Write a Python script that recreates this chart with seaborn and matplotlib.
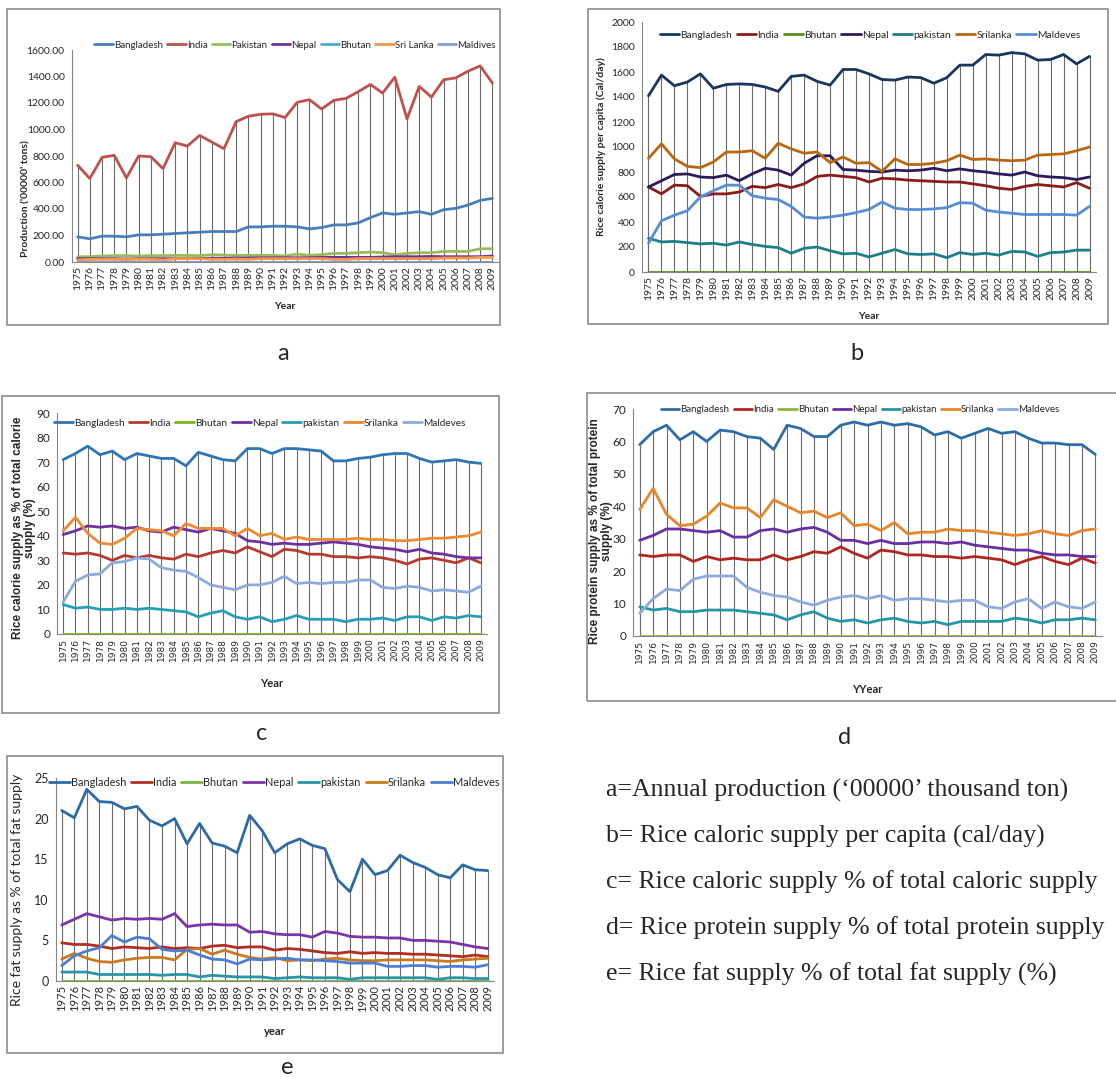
import pandas as pd
import seaborn as sns
import matplotlib.pyplot as plt
from matplotlib.lines import Line2D
from matplotlib.patches import Rectangle
from matplotlib.ticker import FormatStrFormatter

sns.set_style("white")
plt.rcParams['font.family'] = ['Lato', 'DejaVu Sans']

W, H = 1116, 1077
years = list(range(1975, 2010))

# a: production ('00000' tons)
prod_bangladesh = [190, 175, 195, 195, 190, 205, 205, 210, 215, 220, 225, 230, 230, 230, 265, 265, 270, 270, 265, 250,
                   260, 280, 280, 295, 335, 370, 360, 370, 380, 360, 395, 405, 430, 465, 480]
prod_india = [730, 630, 790, 805, 635, 800, 795, 705, 900, 875, 955, 905, 855, 1060, 1100, 1115, 1118, 1090, 1205, 1225,
              1155, 1220, 1235, 1285, 1340, 1275, 1395, 1080, 1325, 1245, 1375, 1390, 1440, 1480, 1350]
prod_pakistan = [40, 40, 45, 48, 48, 45, 48, 48, 50, 50, 48, 55, 52, 50, 50, 50, 50, 45, 60, 50,
                 55, 65, 65, 70, 75, 70, 55, 65, 70, 70, 80, 80, 80, 100, 100]
prod_nepal = [25, 25, 25, 25, 22, 25, 25, 25, 25, 27, 27, 28, 28, 30, 30, 32, 32, 32, 32, 33,
              35, 35, 35, 35, 35, 38, 40, 40, 40, 42, 40, 40, 40, 40, 45]
prod_bhutan = [2] * 35
prod_srilanka = [15, 20, 20, 20, 20, 22, 20, 15, 25, 25, 25, 20, 20, 22, 20, 25, 25, 25, 25, 25,
                 25, 20, 20, 25, 25, 25, 25, 25, 25, 25, 30, 30, 30, 35, 35]
prod_maldives = [0] * 35

# b: rice calorie supply per capita (cal/day)
cal_bangladesh = [1410, 1575, 1490, 1520, 1585, 1470, 1500, 1505, 1500, 1480, 1445, 1565, 1575, 1525, 1495, 1620, 1620,
                  1585, 1540, 1535, 1560, 1555, 1510, 1555, 1655, 1655, 1740, 1735, 1755, 1745, 1695, 1700, 1740, 1665, 1725]
cal_india = [680, 625, 695, 690, 605, 625, 625, 640, 685, 675, 700, 675, 705, 765, 775, 765, 755, 720, 750, 745,
             735, 730, 725, 720, 720, 705, 690, 670, 660, 685, 700, 690, 680, 715, 670]
cal_bhutan = [0] * 35
cal_nepal = [680, 730, 780, 785, 760, 755, 775, 730, 785, 830, 815, 775, 870, 930, 930, 820, 815, 805, 800, 815,
             810, 815, 830, 810, 825, 810, 800, 785, 775, 800, 770, 760, 755, 740, 760]
cal_pakistan = [270, 240, 245, 235, 225, 230, 215, 240, 220, 205, 195, 150, 190, 200, 170, 145, 150, 120, 150, 180,
                145, 140, 145, 115, 155, 140, 150, 135, 165, 160, 125, 155, 160, 175, 175]
cal_srilanka = [910, 1025, 905, 845, 835, 880, 960, 960, 970, 910, 1030, 985, 950, 960, 875, 920, 870, 875, 805, 905,
                860, 860, 870, 890, 935, 900, 905, 895, 890, 895, 935, 940, 945, 970, 1000]
cal_maldives = [230, 410, 455, 490, 600, 650, 695, 695, 610, 590, 580, 525, 440, 430, 440, 455, 475, 500, 560, 510,
                500, 500, 505, 515, 555, 550, 495, 480, 470, 460, 460, 460, 460, 455, 525]

# c: rice calorie supply as % of total calorie supply
pcal_bangladesh = [71, 73.5, 76.5, 73, 74.5, 71, 73.5, 72.5, 71.5, 71.5, 68.5, 74, 72.5, 71, 70.5, 75.5, 75.5, 73.5,
                   75.5, 75.5, 75, 74.5, 70.5, 70.5, 71.5, 72, 73, 73.5, 73.5, 71.5, 70, 70.5, 71, 70, 69.5]
pcal_india = [33, 32.5, 33, 32, 30, 32, 31, 32, 31, 30.5, 32.5, 31.5, 33, 34, 33, 35.5, 33.5, 31.5, 34.5, 34,
              32.5, 32.5, 31.5, 31.5, 31, 31.5, 31, 30, 28.5, 30.5, 31, 30, 29, 31, 29]
pcal_bhutan = [0] * 35
pcal_nepal = [40.5, 42, 44, 43.5, 44, 43, 43.5, 42, 41.5, 43.5, 42.5, 41.5, 43, 42, 41, 38, 37.5, 36.5, 37, 36.5,
              36.5, 37, 37.5, 37, 36.5, 35.5, 35, 34.5, 33.5, 34.5, 33, 32.5, 31.5, 31, 31]
pcal_pakistan = [12, 10.5, 11, 10, 10, 10.5, 10, 10.5, 10, 9.5, 9, 7, 8.5, 9.5, 7, 6, 7, 5, 6, 7.5,
                 6, 6, 6, 5, 6, 6, 6.5, 5.5, 7, 7, 5.5, 7, 6.5, 7.5, 7]
pcal_srilanka = [42, 47.5, 41, 37, 36.5, 39, 43, 42.5, 42, 40, 45, 43, 43, 43, 40, 43, 40, 41, 38.5, 39.5,
                 38.5, 38.5, 38.5, 38.5, 39, 38.5, 38.5, 38, 38, 38.5, 39, 39, 39.5, 40, 41.5]
pcal_maldives = [13, 21.5, 24, 24.5, 29, 29.5, 31, 30.5, 27, 26, 25.5, 23, 20, 19, 18, 20, 20, 21, 23.5, 20.5,
                 21, 20.5, 21, 21, 22, 22, 19, 18.5, 19.5, 19, 17.5, 18, 17.5, 17, 19.5]

# d: rice protein supply as % of total protein supply
prot_bangladesh = [59, 63, 65, 60.5, 63, 60, 63.5, 63, 61.5, 61, 57.5, 65, 64, 61.5, 61.5, 65, 66, 65, 66, 65,
                   65.5, 64.5, 62, 63, 61, 62.5, 64, 62.5, 63, 61, 59.5, 59.5, 59, 59, 56]
prot_india = [25, 24.5, 25, 25, 23, 24.5, 23.5, 24, 23.5, 23.5, 25, 23.5, 24.5, 26, 25.5, 27.5, 25.5, 24, 26.5, 26,
              25, 25, 24.5, 24.5, 24, 24.5, 24, 23.5, 22, 23.5, 24.5, 23, 22, 24, 22.5]
prot_bhutan = [0] * 35
prot_nepal = [29.5, 31, 33, 33, 32.5, 32, 32.5, 30.5, 30.5, 32.5, 33, 32, 33, 33.5, 32, 29.5, 29.5, 28.5, 29.5, 28.5,
              28.5, 29, 29, 28.5, 29, 28, 27.5, 27, 26.5, 26.5, 25.5, 25, 25, 24.5, 24.5]
prot_pakistan = [9, 8, 8.5, 7.5, 7.5, 8, 8, 8, 7.5, 7, 6.5, 5, 6.5, 7.5, 5.5, 4.5, 5, 4, 5, 5.5,
                 4.5, 4, 4.5, 3.5, 4.5, 4.5, 4.5, 4.5, 5.5, 5, 4, 5, 5, 5.5, 5]
prot_srilanka = [39, 45.5, 37.5, 34, 34.5, 37, 41, 39.5, 39.5, 36.5, 42, 40, 38, 38.5, 36.5, 38, 34, 34.5, 32.5, 35,
                 31.5, 32, 32, 33, 32.5, 32.5, 32, 31.5, 31, 31.5, 32.5, 31.5, 31, 32.5, 33]
prot_maldives = [7, 11.5, 14.5, 14, 17.5, 18.5, 18.5, 18.5, 15, 13.5, 12.5, 12, 10.5, 9.5, 11, 12, 12.5, 11.5, 12.5, 11,
                 11.5, 11.5, 11, 10.5, 11, 11, 9, 8.5, 10.5, 11.5, 8.5, 10.5, 9, 8.5, 10.5]

# e: rice fat supply as % of total fat supply
fat_bangladesh = [21, 20.1, 23.6, 22.1, 22, 21.2, 21.5, 19.8, 19.1, 20, 16.9, 19.4, 17, 16.6, 15.8, 20.4, 18.5, 15.8,
                  16.9, 17.5, 16.7, 16.3, 12.5, 11, 15, 13.1, 13.6, 15.5, 14.6, 14, 13.1, 12.7, 14.3, 13.7, 13.6]
fat_india = [4.7, 4.5, 4.5, 4.3, 4, 4.2, 4.1, 4, 4.2, 4, 4.1, 4, 4.3, 4.4, 4.1, 4.2, 4.2, 3.8, 4, 3.9,
             3.7, 3.5, 3.4, 3.6, 3.4, 3.5, 3.4, 3.4, 3.3, 3.3, 3.2, 3.1, 3, 3.2, 3]
fat_bhutan = [0] * 35
fat_nepal = [6.9, 7.6, 8.3, 7.9, 7.5, 7.7, 7.6, 7.7, 7.6, 8.3, 6.7, 6.9, 7, 6.9, 6.9, 6, 6.1, 5.8, 5.7, 5.7,
             5.4, 6.1, 5.9, 5.5, 5.4, 5.4, 5.3, 5.3, 5, 5, 4.9, 4.8, 4.5, 4.2, 4.0]
fat_pakistan = [1.1, 1.1, 1.1, 0.8, 0.8, 0.8, 0.8, 0.8, 0.7, 0.8, 0.8, 0.5, 0.7, 0.6, 0.5, 0.5, 0.5, 0.3, 0.4, 0.5,
                0.4, 0.4, 0.4, 0.2, 0.4, 0.4, 0.4, 0.4, 0.4, 0.4, 0.2, 0.4, 0.4, 0.3, 0.3]
fat_srilanka = [2.7, 3.4, 2.8, 2.4, 2.3, 2.6, 2.8, 2.9, 2.9, 2.6, 3.9, 4, 3.3, 3.8, 3.3, 2.9, 2.7, 2.9, 2.5, 2.6,
                2.5, 2.7, 2.8, 2.6, 2.5, 2.5, 2.6, 2.6, 2.6, 2.6, 2.5, 2.4, 2.6, 2.7, 2.8]
fat_maldives = [1.9, 3.1, 3.7, 4.1, 5.6, 4.8, 5.4, 5.2, 3.9, 3.7, 3.8, 3.2, 2.7, 2.6, 2.1, 2.7, 2.6, 2.7, 2.8, 2.6,
                2.6, 2.5, 2.4, 2.2, 2.2, 2.2, 1.8, 1.8, 1.9, 1.9, 1.7, 1.8, 1.8, 1.7, 2.0]

names_a = ["Bangladesh", "India", "Pakistan", "Nepal", "Bhutan", "Sri Lanka", "Maldives"]
names_b = ["Bangladesh", "India", "Bhutan", "Nepal", "pakistan", "Srilanka", "Maldeves"]

colors_a = ["#4a7ebb", "#c0504d", "#9bbb59", "#7030a0", "#4bacc6", "#f79646", "#7f9fdb"]
colors_b = ["#17375e", "#8b1c1c", "#5e8b1e", "#2e1a5e", "#1d7f8a", "#b8670f", "#558ed5"]
colors_c = ["#2e75b6", "#b83a2e", "#7ab51d", "#7030a0", "#25a0b5", "#ee8a30", "#8ea9db"]
colors_d = ["#2c6da8", "#b3261e", "#8db33a", "#6a2fa0", "#2596a8", "#e8852a", "#8faadc"]
colors_e = ["#2d6ba5", "#b22e25", "#7cb342", "#7b35a8", "#2a95a5", "#c97a20", "#4c7fd4"]


def px_axes(fig, l, r, t, b):
    return fig.add_axes([l / W, 1 - b / H, (r - l) / W, (b - t) / H])


def panel(ax, series, names, colors, ylim, yticks, ylabel, xlabel, leg_xy,
          fmt=None, tick_fs=7.5, ytick_fs=8, lab_fs=8, ylab_fs=None, leg_fs=8,
          xfont=None, ylab_xy=None, xlab_y=None):
    wide = pd.DataFrame(dict(zip(names, series)), index=years)
    wide.index.name = "Year"
    # high-low lines between the lowest and highest series
    ax.vlines(wide.index, wide.min(axis=1), wide.max(axis=1), color="#6a6a6a", lw=0.8, zorder=1)
    long = wide.reset_index().melt(id_vars="Year", var_name="country", value_name="value")
    pal = dict(zip(names, colors))
    sns.lineplot(data=long, x="Year", y="value", hue="country", hue_order=names,
                 palette=pal, lw=2.0, ax=ax, legend=False, zorder=3)
    ax.set_xlim(1974.5, 2009.5)
    ax.set_ylim(*ylim)
    ax.set_yticks(yticks)
    if fmt:
        ax.yaxis.set_major_formatter(FormatStrFormatter(fmt))
    ax.set_xticks(years)
    ax.set_xticklabels([str(y) for y in years], rotation=90, fontsize=tick_fs,
                       family=xfont if xfont else None)
    ax.tick_params(axis="y", labelsize=ytick_fs, length=3, color="#868686", pad=2)
    ax.tick_params(axis="x", length=0, pad=3)
    for s in ["top", "right"]:
        ax.spines[s].set_visible(False)
    for s in ["left", "bottom"]:
        ax.spines[s].set_color("#868686")
        ax.spines[s].set_linewidth(0.8)
    ax.set_ylabel(ylabel, fontsize=ylab_fs or lab_fs, fontweight="bold",
                  family=["Liberation Sans", "DejaVu Sans"] if "\n" in ylabel else None,
                  linespacing=1.0)
    ax.set_xlabel(xlabel, fontsize=lab_fs, fontweight="bold")
    if ylab_xy:
        ax.yaxis.set_label_coords(*ylab_xy)
    if xlab_y is not None:
        ax.xaxis.set_label_coords(0.5, xlab_y)
    handles = [Line2D([], [], color=c, lw=2.0) for c in colors]
    ax.legend(handles, names, loc="center", ncol=7, frameon=False, fontsize=leg_fs,
              handlelength=1.9, handletextpad=0.1, columnspacing=0.45,
              bbox_to_anchor=(leg_xy[0] / W, 1 - leg_xy[1] / H), bbox_transform=fig.transFigure)


fig = plt.figure(figsize=(W / 100, H / 100), dpi=100)

# panel frames
for (l, t, r, b) in [(7, 9, 500, 325), (588, 9, 1108, 324), (2, 396, 499, 713),
                     (587, 393, 1120, 701), (7, 756, 503, 1053)]:
    fig.patches.append(Rectangle((l / W, 1 - b / H), (r - l) / W, (b - t) / H, transform=fig.transFigure,
                                 fill=False, ec="#8c8c8c", lw=1.2))

ax_a = px_axes(fig, 71.5, 498.5, 50, 262)
panel(ax_a, [prod_bangladesh, prod_india, prod_pakistan, prod_nepal, prod_bhutan, prod_srilanka, prod_maldives],
      names_a, colors_a, (0, 1600), range(0, 1601, 200), "Production ('00000' tons)", "Year", (295, 45),
      fmt="%.2f", ytick_fs=7.5, lab_fs=7.5, leg_fs=7.0, ylab_xy=(-0.095, 0.3), xlab_y=-0.19)

ax_b = px_axes(fig, 642, 1096, 22, 272)
panel(ax_b, [cal_bangladesh, cal_india, cal_bhutan, cal_nepal, cal_pakistan, cal_srilanka, cal_maldives],
      names_b, colors_b, (0, 2000), range(0, 2001, 200), "Rice calorie supply per capita (Cal/day)", "Year",
      (870, 35), ytick_fs=7.5, lab_fs=7.5, leg_fs=7.4, xlab_y=-0.16)

ax_c = px_axes(fig, 57, 487, 413, 634)
panel(ax_c, [pcal_bangladesh, pcal_india, pcal_bhutan, pcal_nepal, pcal_pakistan, pcal_srilanka, pcal_maldives],
      names_b, colors_c, (0, 90), range(0, 91, 10), "Rice calorie supply as % of total calorie\nsupply (%)", "Year",
      (260, 423), tick_fs=6.5, ytick_fs=8.5, lab_fs=8, ylab_fs=8.5, xfont="DejaVu Sans", leg_fs=7.2,
      ylab_xy=(-0.05, 0.48), xlab_y=-0.2)

ax_d = px_axes(fig, 633, 1102, 409, 636)
panel(ax_d, [prot_bangladesh, prot_india, prot_bhutan, prot_nepal, prot_pakistan, prot_srilanka, prot_maldives],
      names_b, colors_d, (0, 70), range(0, 71, 10), "Rice protein supply as % of total protein\nsupply (%)", "YYear",
      (860, 410), tick_fs=6.5, ytick_fs=8.5, lab_fs=8, ylab_fs=8.5, xfont="DejaVu Sans", leg_fs=7.0,
      ylab_xy=(-0.042, 0.46), xlab_y=-0.21)

ax_e = px_axes(fig, 55.5, 494, 778, 981)
panel(ax_e, [fat_bangladesh, fat_india, fat_bhutan, fat_nepal, fat_pakistan, fat_srilanka, fat_maldives],
      names_b, colors_e, (0, 25), range(0, 26, 5), "Rice fat supply as % of total fat supply", "year",
      (274, 782), tick_fs=8, ytick_fs=9, lab_fs=8, leg_fs=7.9, ylab_xy=(-0.075, 0.45), xlab_y=-0.22)
ax_e.yaxis.label.set_fontweight("normal")
ax_e.yaxis.label.set_fontsize(10)

# panel letters
for letter, x, y in [("a", 283, 353), ("b", 857, 353), ("c", 262, 733), ("d", 845, 738), ("e", 287, 1067)]:
    fig.text(x / W, 1 - y / H, letter, fontsize=17, family=["Lato", "DejaVu Sans"], ha="center", va="center")

captions = ["a=Annual production (\u201800000\u2019 thousand ton)",
            "b= Rice caloric supply per capita (cal/day)",
            "c= Rice caloric supply % of total caloric supply",
            "d= Rice protein supply % of total protein supply",
            "e= Rice fat supply % of total fat supply (%)"]
for i, txt in enumerate(captions):
    fig.text(606 / W, 1 - (790 + 46 * i) / H, txt, fontsize=18.5,
             family=["Liberation Serif", "DejaVu Serif"], va="center", ha="left")

fig.savefig("out.png", dpi=100)
